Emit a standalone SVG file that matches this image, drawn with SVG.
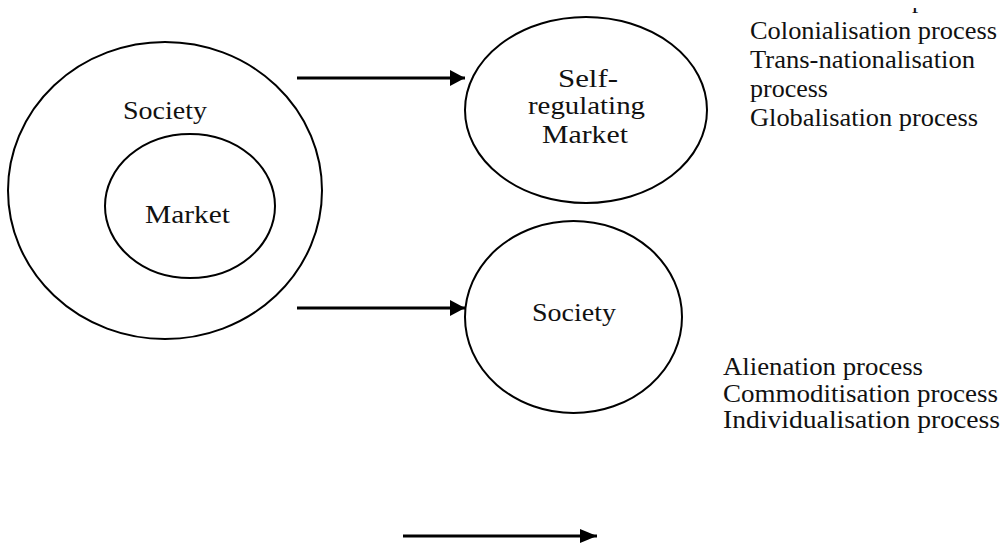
<svg xmlns="http://www.w3.org/2000/svg" width="1006" height="545" viewBox="0 0 1006 545">
  <style>
    .shape { fill: none; stroke: #000; stroke-width: 2; }
    .conn { stroke: #000; stroke-width: 3; fill: none; }
    text { font-family: "Liberation Serif", "Times New Roman", serif; font-size: 25px; fill: #111; }
    .mid { text-anchor: middle; }
  </style>
  <defs>
    <marker id="arr" markerUnits="userSpaceOnUse" markerWidth="18" markerHeight="18" refX="15" refY="8" orient="auto">
      <path d="M0,0 L15,8 L0,16 Z" fill="#000"/>
    </marker>
    <marker id="arr2" markerUnits="userSpaceOnUse" markerWidth="20" markerHeight="16" refX="17" refY="7" orient="auto">
      <path d="M0,0 L17,7 L0,14 Z" fill="#000"/>
    </marker>
    <clipPath id="frag"><rect x="900" y="8" width="30" height="7"/></clipPath>
  </defs>
  <rect width="1006" height="545" fill="#fff"/>

  <g id="connectors">
    <line class="conn" x1="297" y1="78" x2="465" y2="78" marker-end="url(#arr)"/>
    <line class="conn" x1="297" y1="308" x2="465" y2="308" marker-end="url(#arr)"/>
    <line class="conn" x1="403" y1="536" x2="597" y2="536" marker-end="url(#arr2)"/>
  </g>

  <g id="society-outer">
    <ellipse class="shape" cx="165" cy="190.5" rx="157" ry="148.5"/>
    <text x="123" y="119" textLength="84" lengthAdjust="spacingAndGlyphs">Society</text>
  </g>
  <g id="market-inner">
    <ellipse class="shape" cx="190" cy="206" rx="85" ry="72"/>
    <text x="145" y="223" textLength="85" lengthAdjust="spacingAndGlyphs">Market</text>
  </g>
  <g id="self-regulating-market">
    <ellipse class="shape" cx="586" cy="110" rx="121" ry="93"/>
    <text x="558" y="87" textLength="60" lengthAdjust="spacingAndGlyphs">Self-</text>
    <text x="528" y="114" textLength="117" lengthAdjust="spacingAndGlyphs">regulating</text>
    <text x="542" y="143" textLength="86" lengthAdjust="spacingAndGlyphs">Market</text>
  </g>
  <g id="society-right">
    <ellipse class="shape" cx="573.5" cy="317" rx="108.5" ry="96"/>
    <text x="532" y="321" textLength="84" lengthAdjust="spacingAndGlyphs">Society</text>
  </g>

  <g id="processes-top">
    <text x="912" y="8" clip-path="url(#frag)">p</text>
    <text x="750" y="38.5" textLength="247" lengthAdjust="spacingAndGlyphs">Colonialisation process</text>
    <text x="750" y="67.5" textLength="225" lengthAdjust="spacingAndGlyphs">Trans-nationalisation</text>
    <text x="750" y="96.5" textLength="78" lengthAdjust="spacingAndGlyphs">process</text>
    <text x="750" y="125.5" textLength="228" lengthAdjust="spacingAndGlyphs">Globalisation process</text>
  </g>
  <g id="processes-bottom">
    <text x="723" y="375" textLength="200" lengthAdjust="spacingAndGlyphs">Alienation process</text>
    <text x="723" y="402" textLength="275" lengthAdjust="spacingAndGlyphs">Commoditisation process</text>
    <text x="723" y="428" textLength="277" lengthAdjust="spacingAndGlyphs">Individualisation process</text>
  </g>
</svg>
